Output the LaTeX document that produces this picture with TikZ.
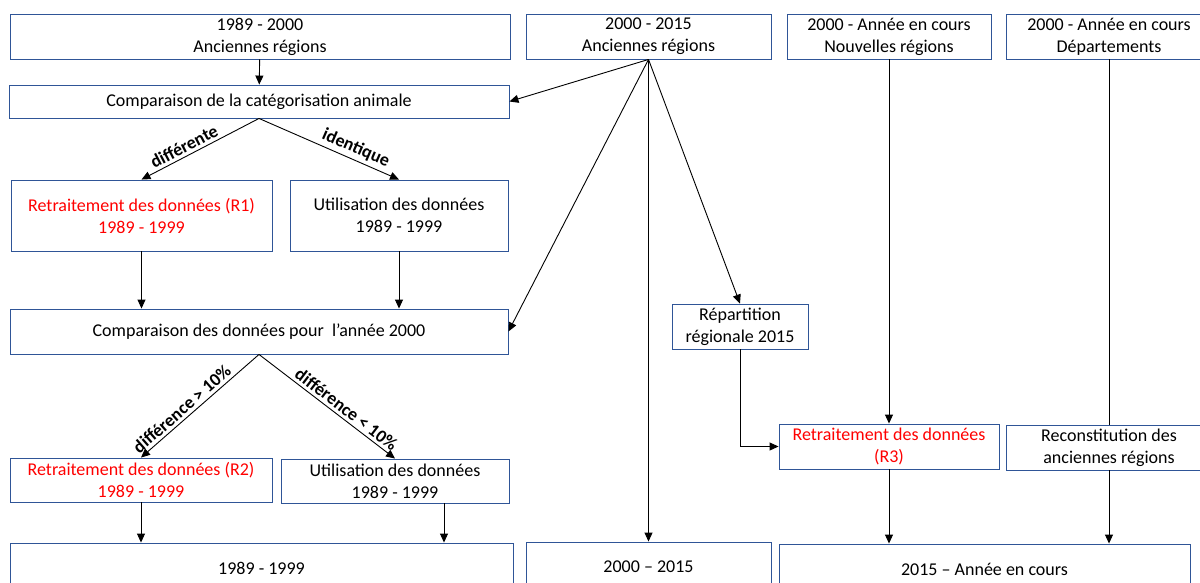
\documentclass[tikz,border=0pt]{standalone}
\usepackage{fontspec}
\setmainfont{Carlito}
\usetikzlibrary{arrows.meta}
\definecolor{boxblue}{HTML}{2F5597}
\definecolor{retred}{HTML}{FF0000}
\begin{document}
\begin{tikzpicture}[x=0.5pt,y=-0.5pt,
  box/.style={draw=boxblue,line width=0.45pt,inner sep=0pt,align=center,font=\fontsize{9}{11}\selectfont},
  arr/.style={-{Triangle[length=4.5pt,width=4pt]},line width=0.45pt},
  lbl/.style={font=\fontsize{9}{11}\selectfont\bfseries,sloped,above,inner sep=1.5pt}]
\clip (0,0) rectangle (1200,583);
% sources
\node[box,minimum width=250pt,minimum height=22.5pt] (src1) at (260,36.5) {1989 - 2000\\Anciennes régions};
\node[box,minimum width=122.5pt,minimum height=22.5pt] (src2) at (648.5,36.5) {2000 - 2015\\Anciennes régions};
\node[box,minimum width=102pt,minimum height=22.5pt] (src3) at (889,36.5) {2000 - Année en cours\\Nouvelles régions};
\node[box,minimum width=103pt,minimum height=22.5pt] (src4) at (1109,36.5) {2000 - Année en cours\\Départements};
% first branch
\node[box,minimum width=250pt,minimum height=16.5pt] (cmp1) at (259,101.5) {Comparaison de la catégorisation animale};
\node[box,minimum width=130.5pt,minimum height=35.5pt,text=retred] (ret1) at (141.5,215.5) {Retraitement des données (R1)\\1989 - 1999};
\node[box,minimum width=109pt,minimum height=35.5pt] (use1) at (399,215.5) {Utilisation des données\\1989 - 1999};
\node[box,minimum width=249pt,minimum height=22.5pt] (cmp2) at (259,331.5) {Comparaison des données pour~ l’année 2000};
\node[box,minimum width=131pt,minimum height=22pt,text=retred] (ret2) at (141,480) {Retraitement des données (R2)\\1989 - 1999};
\node[box,minimum width=114pt,minimum height=22pt] (use2) at (395,481) {Utilisation des données\\1989 - 1999};
% 2015 branch
\node[box,minimum width=68pt,minimum height=22.5pt] (rep) at (740,326.5) {Répartition\\régionale 2015};
\node[box,minimum width=110pt,minimum height=22.5pt,text=retred] (ret3) at (889,446.5) {Retraitement des données\\(R3)};
\node[box,minimum width=103pt,minimum height=22.5pt] (rec) at (1109,447.5) {Reconstitution des\\anciennes régions};
% results
\node[box,minimum width=251.5pt,minimum height=25pt] (res1) at (261.5,568) {1989 - 1999};
\node[box,minimum width=122.5pt,minimum height=25pt] (res2) at (648.5,567) {2000 -- 2015};
\node[box,minimum width=205.5pt,minimum height=25pt] (res3) at (984.5,569) {2015 -- Année en cours};

\draw[arr] (src1) -- (cmp1);
\draw[arr] (src2.south) -- (cmp1.east);
\draw[arr] (src2.south) -- (cmp2.east);
\draw[arr] (src2.south) -- (rep.north);
\draw[arr] (src2.south) -- (res2.north);
\draw[arr] (cmp1.south) -- (ret1.north) node[lbl,pos=0.6] {différente};
\draw[arr] (cmp1.south) -- (use1.north) node[lbl,pos=0.66] {identique};
\draw[arr] (ret1.south) -- (ret1.south |- cmp2.north);
\draw[arr] (use1.south) -- (use1.south |- cmp2.north);
\draw[arr] (cmp2.south) -- (ret2.north) node[lbl,pos=0.6] {différence > 10\%};
\draw[arr] (cmp2.south) -- (use2.north) node[lbl,pos=0.6] {différence < 10\%};
\draw[arr] (ret2.south) -- (ret2.south |- res1.north);
\draw[arr] ([xshift=24.5pt]use2.south) -- ([xshift=24.5pt]use2.south |- res1.north);
\draw[arr] (rep.south) |- (ret3.west);
\draw[arr] (src3.south) -- (ret3.north);
\draw[arr] (ret3.south) -- (ret3.south |- res3.north);
\draw[line width=0.45pt] (src4.south) -- (rec.north);
\draw[arr] (rec.south) -- (rec.south |- res3.north);
\end{tikzpicture}
\end{document}
